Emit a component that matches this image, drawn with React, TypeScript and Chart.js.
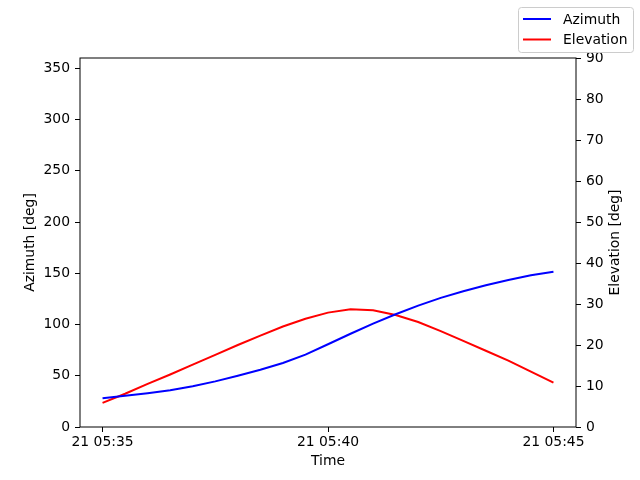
import React, { useEffect, useRef } from "react";
import { Chart, registerables } from "chart.js";

Chart.register(...registerables);

// minutes after 21 05:35, one sample every 30 s
const minutes = [0, 0.5, 1, 1.5, 2, 2.5, 3, 3.5, 4, 4.5, 5, 5.5, 6, 6.5, 7, 7.5, 8, 8.5, 9, 9.5, 10];
const azimuth = [28, 30.5, 33, 35.8, 39.7, 44.5, 50, 55.8, 62.5, 70.6, 80.7, 91, 100.8, 110, 118.4, 126, 132.5, 138.3, 143.5, 148, 151.5];
const elevation = [5.9, 8.1, 10.5, 12.8, 15.2, 17.6, 20, 22.3, 24.5, 26.4, 27.9, 28.7, 28.5, 27.3, 25.6, 23.4, 21, 18.6, 16.2, 13.5, 10.8];

const timeTicks = [0, 5, 10];
const timeTickLabels = ["21 05:35", "21 05:40", "21 05:45"];
const azimuthTicks = [0, 50, 100, 150, 200, 250, 300, 350];
const elevationTicks = [0, 10, 20, 30, 40, 50, 60, 70, 80, 90];
const rightTitle = "Elevation [deg]";

const FONT = { family: "'DejaVu Sans', sans-serif", size: 13.9 };

// black box round the plot area (all four spines)
const framePlugin = {
  id: "frame",
  afterDatasetsDraw(chart: Chart) {
    const { ctx, chartArea } = chart;
    ctx.save();
    ctx.strokeStyle = "#000";
    ctx.lineWidth = 1;
    ctx.strokeRect(chartArea.left, chartArea.top, chartArea.right - chartArea.left, chartArea.bottom - chartArea.top);
    ctx.restore();
  },
};

// right axis title reads bottom-to-top in matplotlib, Chart.js turns it the other way
const rightTitlePlugin = {
  id: "rightTitle",
  afterDraw(chart: Chart) {
    const { ctx, chartArea } = chart;
    ctx.save();
    ctx.translate(615, (chartArea.top + chartArea.bottom) / 2);
    ctx.rotate(-Math.PI / 2);
    ctx.font = `${FONT.size}px ${FONT.family}`;
    ctx.fillStyle = "#000";
    ctx.textAlign = "center";
    ctx.textBaseline = "middle";
    ctx.fillText(rightTitle, 0, 0);
    ctx.restore();
  },
};

// figure legend in the top right corner, like matplotlib's fig.legend
const legendPlugin = {
  id: "figLegend",
  afterDraw(chart: Chart) {
    const { ctx } = chart;
    ctx.save();
    ctx.beginPath();
    ctx.roundRect(518.5, 7.5, 115, 45, 3);
    ctx.fillStyle = "rgba(255,255,255,0.8)";
    ctx.fill();
    ctx.strokeStyle = "#cccccc";
    ctx.lineWidth = 1;
    ctx.stroke();
    ctx.font = `${FONT.size}px ${FONT.family}`;
    ctx.textBaseline = "middle";
    chart.data.datasets.forEach((ds, i) => {
      const y = 19 + i * 20.5;
      ctx.strokeStyle = ds.borderColor as string;
      ctx.lineWidth = 2;
      ctx.beginPath();
      ctx.moveTo(523, y);
      ctx.lineTo(551, y);
      ctx.stroke();
      ctx.fillStyle = "#000";
      ctx.fillText(ds.label as string, 563, y + 1);
    });
    ctx.restore();
  },
};

export default function App() {
  const canvasRef = useRef<HTMLCanvasElement | null>(null);
  const chartRef = useRef<Chart | null>(null);

  useEffect(() => {
    if (!canvasRef.current) return;
    if (chartRef.current) chartRef.current.destroy();

    const tickGrid = {
      drawOnChartArea: false,
      drawTicks: true,
      tickLength: 5,
      color: "#000",
      lineWidth: 1,
    };

    chartRef.current = new Chart(canvasRef.current, {
      type: "line",
      data: {
        datasets: [
          {
            label: "Azimuth",
            data: minutes.map((m, i) => ({ x: m, y: azimuth[i] })),
            borderColor: "blue",
            borderWidth: 2,
            pointRadius: 0,
            tension: 0,
            yAxisID: "y",
          },
          {
            label: "Elevation",
            data: minutes.map((m, i) => ({ x: m, y: elevation[i] })),
            borderColor: "red",
            borderWidth: 2,
            pointRadius: 0,
            tension: 0,
            yAxisID: "yR",
          },
        ],
      },
      options: {
        responsive: false,
        animation: false,
        layout: { padding: { top: 58, left: 0, right: 0, bottom: 0 } },
        plugins: {
          legend: { display: false },
          tooltip: { enabled: false },
        },
        scales: {
          x: {
            type: "linear",
            min: -0.5,
            max: 10.5,
            border: { display: false },
            grid: tickGrid,
            afterBuildTicks: (scale: any) => {
              scale.ticks = timeTicks.map((value) => ({ value }));
            },
            afterFit: (scale: any) => {
              scale.height = 53;
            },
            ticks: {
              color: "#000",
              font: FONT,
              padding: 2,
              maxRotation: 0,
              autoSkip: false,
              callback: (value: any) => timeTickLabels[timeTicks.indexOf(Number(value))],
            },
            title: {
              display: true,
              text: "Time",
              color: "#000",
              font: FONT,
              padding: { top: 0, bottom: 10 },
            },
          },
          y: {
            type: "linear",
            position: "left",
            min: 0,
            max: 360,
            border: { display: false },
            grid: tickGrid,
            afterBuildTicks: (scale: any) => {
              scale.ticks = azimuthTicks.map((value) => ({ value }));
            },
            afterFit: (scale: any) => {
              scale.width = 80;
            },
            ticks: { color: "#000", font: FONT, padding: 5 },
            title: {
              display: true,
              text: "Azimuth [deg]",
              color: "#000",
              font: FONT,
              padding: { top: 22, bottom: 0 },
            },
          },
          yR: {
            type: "linear",
            position: "right",
            min: 0,
            max: 90,
            border: { display: false },
            grid: tickGrid,
            afterBuildTicks: (scale: any) => {
              scale.ticks = elevationTicks.map((value) => ({ value }));
            },
            afterFit: (scale: any) => {
              scale.width = 64;
            },
            ticks: { color: "#000", font: FONT, padding: 5 },
          },
        },
      },
      plugins: [framePlugin, rightTitlePlugin, legendPlugin],
    });

    return () => {
      if (chartRef.current) {
        chartRef.current.destroy();
        chartRef.current = null;
      }
    };
  }, []);

  return (
    <div style={{ position: "absolute", left: 0, top: 0, width: 640, height: 480, background: "#fff" }}>
      <canvas ref={canvasRef} width={640} height={480} style={{ display: "block", width: 640, height: 480 }} />
    </div>
  );
}
